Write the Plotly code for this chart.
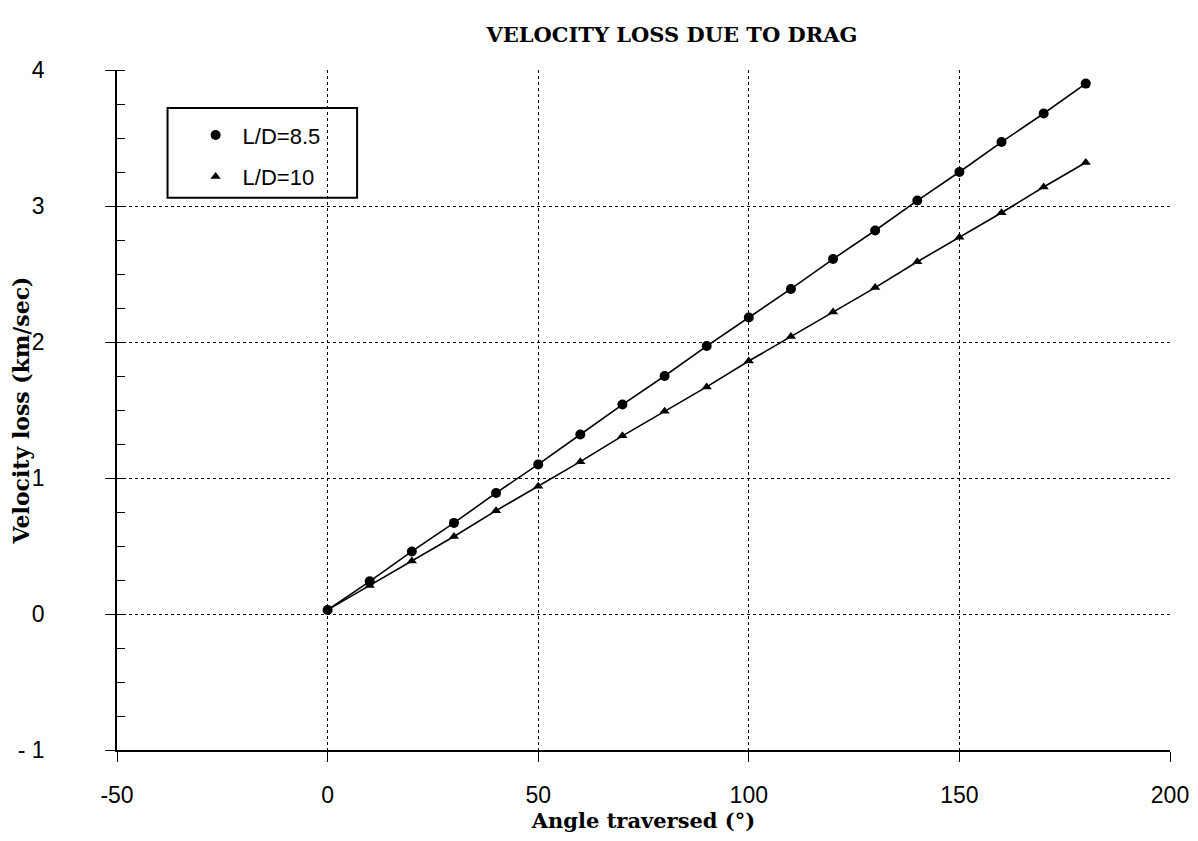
import plotly.graph_objects as go

# angle traversed (deg)
angle = [0, 10, 20, 30, 40, 50, 60, 70, 80, 90, 100, 110, 120, 130, 140, 150, 160, 170, 180]

# velocity loss (km/sec)
loss_ld85 = [0.03, 0.24, 0.46, 0.67, 0.89, 1.10, 1.32, 1.54, 1.75, 1.97,
             2.18, 2.39, 2.61, 2.82, 3.04, 3.25, 3.47, 3.68, 3.90]
loss_ld10 = [0.03, 0.21, 0.39, 0.57, 0.76, 0.94, 1.12, 1.31, 1.49, 1.67,
             1.86, 2.04, 2.22, 2.40, 2.59, 2.77, 2.95, 3.14, 3.32]

series_names = ['L/D=8.5', 'L/D=10']
x_ticks = [-50, 0, 50, 100, 150, 200]
x_ticktext = ['-50', '0', '50', '100', '150', '200']
y_ticks = [-1, 0, 1, 2, 3, 4]
y_ticktext = ['- 1', '0', '1', '2', '3', '4']

serif = 'DejaVu Serif'
sans = 'Liberation Sans'

fig = go.Figure()

for name, vals, sym, msize in [(series_names[0], loss_ld85, 'circle', 10),
                               (series_names[1], loss_ld10, 'triangle-up', 9)]:
    # line without legend entry
    fig.add_trace(go.Scatter(
        x=angle, y=vals, mode='lines', showlegend=False, hoverinfo='skip',
        line=dict(color='black', width=1.6)))
    # markers, these carry the legend
    fig.add_trace(go.Scatter(
        x=angle, y=vals, mode='markers', name=name, legendgroup=name,
        marker=dict(symbol=sym, size=msize, color='black')))

# page has an 8px body margin, so margins are shifted to compensate
fig.update_layout(
    width=1190, height=833,
    margin=dict(l=109, r=28, t=62, b=91),
    plot_bgcolor='white',
    paper_bgcolor='white',
    title=dict(text='<b>VELOCITY LOSS DUE TO DRAG</b>', x=0.527, xref='paper',
               xanchor='center', y=0.968, yanchor='middle',
               font=dict(family=serif, size=21, color='black')),
    legend=dict(x=0.068, y=0.935, xanchor='left', yanchor='top',
                bgcolor='rgba(0,0,0,0)', borderwidth=0,
                font=dict(family=sans, size=22, color='black'),
                itemwidth=44, tracegroupgap=10),
    shapes=[dict(type='rect', xref='paper', yref='paper',
                 x0=0.048, x1=0.228, y0=0.812, y1=0.944,
                 line=dict(color='black', width=2), fillcolor='white', layer='below')],
)

fig.update_xaxes(
    range=[-50, 200], tickvals=x_ticks, ticktext=x_ticktext,
    automargin=False,
    showgrid=True, gridcolor='black', griddash='dot', gridwidth=1,
    showline=True, linecolor='black', linewidth=1.5,
    ticks='outside', ticklen=10, tickcolor='black', tickwidth=1,
    ticklabelstandoff=14,
    tickfont=dict(family=sans, size=23, color='black'),
    zeroline=False,
    title=dict(text='<b>Angle traversed (°)</b>', standoff=6,
               font=dict(family=serif, size=21, color='black')),
)

fig.update_yaxes(
    range=[-1, 4], tickvals=y_ticks, ticktext=y_ticktext,
    automargin=False,
    showgrid=True, gridcolor='black', griddash='dot', gridwidth=1,
    showline=True, linecolor='black', linewidth=1.5,
    ticks='outside', ticklen=10, tickcolor='black', tickwidth=1,
    minor=dict(dtick=0.25, ticks='inside', ticklen=8, tickcolor='black', showgrid=False),
    ticklabelstandoff=56,
    tickfont=dict(family=sans, size=23, color='black'),
    zeroline=False,
    title=dict(text='<b>Velocity loss (km/sec)</b>', standoff=0,
               font=dict(family=serif, size=22, color='black')),
)

fig.write_html("out.html")
